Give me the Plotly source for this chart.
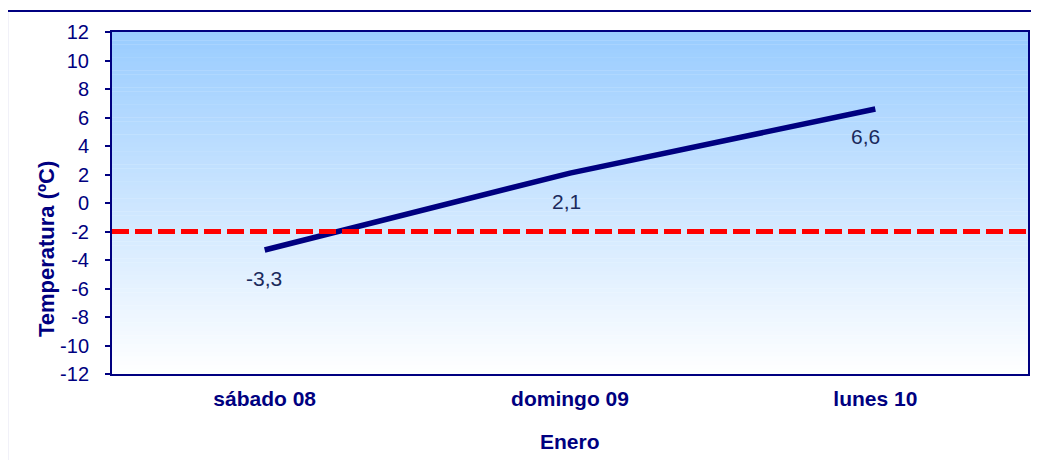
import plotly.graph_objects as go

# ---- data ----
categories = ["sábado 08", "domingo 09", "lunes 10"]
temperatures = [-3.3, 2.1, 6.6]
threshold = -2.0
y_tick_values = [12, 10, 8, 6, 4, 2, 0, -2, -4, -6, -8, -10, -12]
y_tick_labels = ["12", "10", "8", "6", "4", "2", "0", "-2", "-4", "-6", "-8", "-10", "-12"]
x_title = "Enero"
y_title = "Temperatura (ºC)"

NAVY = "#000080"
LABEL = "#1b2a5c"
FONT = "Liberation Sans, Arial, sans-serif"

# page body adds an 8px offset; compensate so the plot lands where the reference has it
OFF = 8
W, H = 1039, 460
L, R, T, B = 112 - OFF, 10.5 + OFF, 32 - OFF, 86 + OFF
pw, ph = W - L - R, H - T - B

fig = go.Figure()

fig.add_trace(go.Scatter(
    x=categories, y=temperatures, mode="lines",
    line=dict(color=NAVY, width=5.5),
    hoverinfo="skip", showlegend=False,
))

# gradient background bands (styling)
shapes = []
n = 80
top = (0x99, 0xCC, 0xFF)
bot = (0xFF, 0xFF, 0xFF)
for i in range(n):
    f = (i + 0.5) / n  # 0 at top
    c = tuple(round(top[k] + (bot[k] - top[k]) * f) for k in range(3))
    shapes.append(dict(
        type="rect", xref="x domain", yref="y domain",
        x0=0, x1=1, y0=1 - (i + 1) / n, y1=1 - i / n + 0.001,
        fillcolor="rgb(%d,%d,%d)" % c, line=dict(width=0), layer="below",
    ))

# threshold dashed line
shapes.append(dict(
    type="line", xref="x domain", yref="y", x0=0, x1=1,
    y0=threshold, y1=threshold,
    line=dict(color="#ff0000", width=5, dash="17px,6px"), layer="above",
))

# outer frame (top and left edges visible); reference frame at x=7, y=11
fx0 = (7 - 112) / pw
fy1 = 1 + (32 - 11) / ph
shapes.append(dict(type="line", xref="paper", yref="paper", x0=fx0, x1=1.2,
                   y0=fy1, y1=fy1, line=dict(color=NAVY, width=2)))
shapes.append(dict(type="line", xref="paper", yref="paper", x0=fx0, x1=fx0,
                   y0=fy1, y1=-0.4, line=dict(color=NAVY, width=2)))

label_xshift = [-1, -4, -10]
annotations = []
for c, v, dx in zip(categories, temperatures, label_xshift):
    annotations.append(dict(
        x=c, y=v, xref="x", yref="y", text=f"{v:.1f}".replace(".", ","),
        showarrow=False, yshift=-28, xshift=dx,
        font=dict(family=FONT, size=21, color=LABEL),
    ))

annotations.append(dict(
    x=(46 - 112) / pw, y=(374 - 249) / ph, xref="paper", yref="paper",
    text="<b>%s</b>" % y_title,
    textangle=-90, showarrow=False, xanchor="center", yanchor="middle",
    font=dict(family=FONT, size=22, color=NAVY),
))
annotations.append(dict(
    x=0.5, y=(374 - 441) / ph, xref="paper", yref="paper", text="<b>%s</b>" % x_title,
    showarrow=False, xanchor="center", yanchor="middle",
    font=dict(family=FONT, size=21, color=NAVY),
))

fig.update_layout(
    width=W, height=H,
    margin=dict(l=L, r=R, t=T, b=B, pad=0),
    paper_bgcolor="white", plot_bgcolor="white",
    shapes=shapes, annotations=annotations,
    font=dict(family=FONT, color=NAVY),
)

fig.update_xaxes(
    type="category", range=[-0.5, 2.5],
    showline=True, linecolor=NAVY, linewidth=2, mirror=True,
    ticks="", showgrid=False, zeroline=False,
    tickfont=dict(family=FONT, size=21, color=NAVY, weight="bold"),
    ticklabelstandoff=5,
)
fig.update_yaxes(
    range=[-12, 12], tickvals=y_tick_values, ticktext=y_tick_labels,
    showline=True, linecolor=NAVY, linewidth=2, mirror=True,
    ticks="outside", ticklen=5, tickcolor=NAVY, tickwidth=1.5,
    showgrid=False, zeroline=False,
    tickfont=dict(family=FONT, size=20, color=NAVY),
    ticklabelstandoff=12,
)

fig.write_html("out.html")
